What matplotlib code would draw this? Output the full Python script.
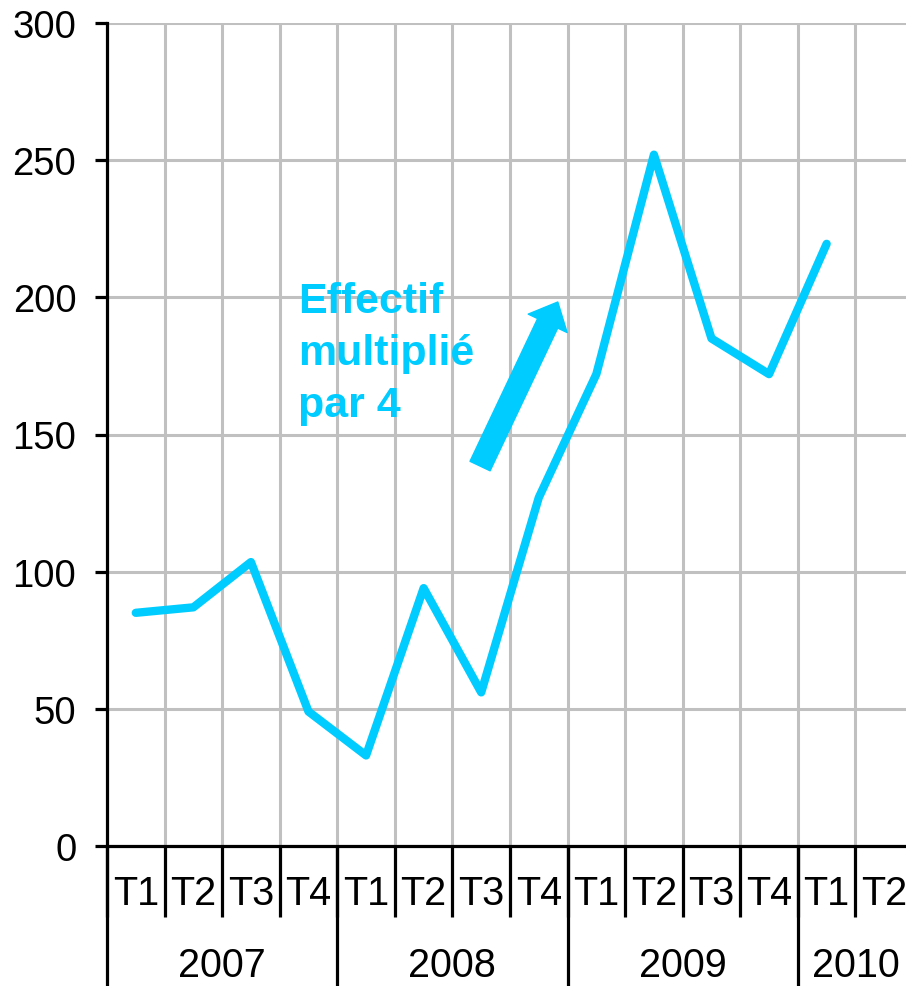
import matplotlib
matplotlib.use("Agg")
import matplotlib.pyplot as plt
import numpy as np

plt.rcParams['font.family'] = ['Liberation Sans', 'DejaVu Sans']

# Data
years = ["2007", "2008", "2009", "2010"]
quarters_per_year = [4, 4, 4, 2]
quarter_labels = ["T1", "T2", "T3", "T4", "T1", "T2", "T3", "T4",
                  "T1", "T2", "T3", "T4", "T1", "T2"]
values = [85, 87, 103.5, 49, 33, 94, 56, 127, 172, 252, 185, 172, 219.5]
annotation = "Effectif\nmultiplié\npar 4"
y_ticks = [0, 50, 100, 150, 200, 250, 300]

LINE_COLOR = "#00CCFF"
GRID_COLOR = "#C0C0C0"

W, H = 906, 987
fig = plt.figure(figsize=(W / 100, H / 100), dpi=100)
ax = fig.add_axes([107 / W, 140 / H, 806 / W, 823 / H])

n = len(quarter_labels)
ax.set_xlim(-0.5, n - 0.5)
ax.set_ylim(0, 300)

# line
x = np.arange(len(values))
ax.plot(x, values, color=LINE_COLOR, lw=6, solid_joinstyle='round',
        solid_capstyle='round', zorder=5, clip_on=False)

# grid & ticks
bounds = np.arange(n + 1) - 0.5
ax.xaxis.remove_overlapping_locs = False
ax.set_xticks(bounds)
ax.set_xticklabels([])
year_bounds = np.concatenate([[0], np.cumsum(quarters_per_year)]) - 0.5
ax.set_xticks(year_bounds, minor=True)
ax.tick_params(axis='x', which='major', length=51, width=2.3, color='black',
               labelbottom=False)
ax.tick_params(axis='x', which='minor', length=110, width=2.3, color='black',
               labelbottom=False)
ax.set_yticks(y_ticks)
ax.set_yticklabels([str(v) for v in y_ticks], fontsize=27.5)
ax.tick_params(axis='y', length=8.6, width=2.3, pad=13.5, color='black')
ax.grid(True, axis='both', which='major', color=GRID_COLOR, lw=2.2, zorder=0)
ax.set_axisbelow(True)

for s in ['top', 'right']:
    ax.spines[s].set_visible(False)
for s in ['left', 'bottom']:
    ax.spines[s].set_linewidth(2.3)
    ax.spines[s].set_color('black')

# category labels
trans = ax.get_xaxis_transform()
for i, q in enumerate(quarter_labels):
    ax.text(i, -0.0705, q, transform=trans, ha='center', va='baseline',
            fontsize=28.5, clip_on=False)
start = 0
for yr, cnt in zip(years, quarters_per_year):
    ax.text(start + (cnt - 1) / 2, -0.158, yr, transform=trans, ha='center',
            va='baseline', fontsize=28.5, clip_on=False)
    start += cnt

# annotation
fig.text(298 / W, 1 - 282 / H, annotation, ha='left', va='top', fontsize=31,
         fontweight='bold', color=LINE_COLOR, linespacing=1.38)
ax.annotate("", xy=(7.33, 198.3), xytext=(5.98, 138.5),
            arrowprops=dict(arrowstyle="simple,head_length=17,head_width=31,tail_width=16",
                            color=LINE_COLOR, shrinkA=0, shrinkB=0, mutation_scale=1),
            zorder=6)

fig.savefig("out.png", dpi=100)
